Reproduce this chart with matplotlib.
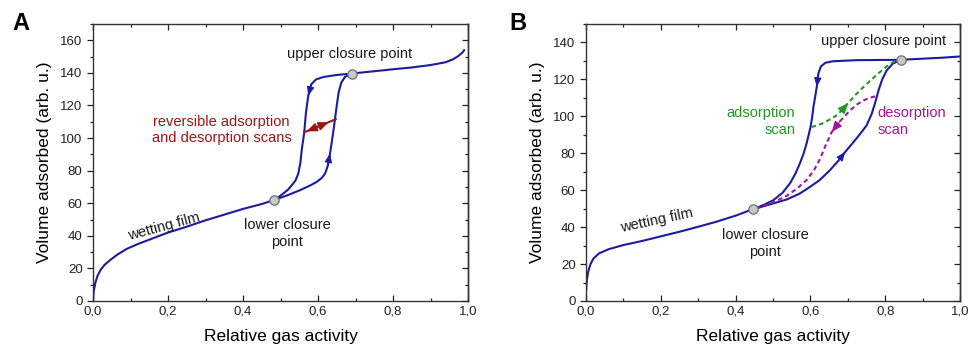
import numpy as np
import matplotlib
matplotlib.use("Agg")
import matplotlib.pyplot as plt
from matplotlib.ticker import MultipleLocator, FuncFormatter

plt.rcParams['font.family'] = ['Liberation Sans', 'DejaVu Sans']

BLUE = '#1c1ca0'
RED = '#a01414'
GREEN = '#1f9a1f'
MAGENTA = '#a0149f'
GRAY_TXT = '#1a1a1a'

# ---- panel A data ----
a_film_x = [0.0, 0.002, 0.006, 0.012, 0.02, 0.03, 0.045, 0.065, 0.09, 0.12, 0.16, 0.2, 0.25, 0.3, 0.35, 0.4, 0.45, 0.483]
a_film_y = [0, 6, 11, 15.5, 19, 22, 25, 28.5, 32, 35, 38.5, 42, 45.6, 49.5, 53, 56.5, 59.5, 62]
a_ads_x = [0.483, 0.52, 0.552, 0.58, 0.5965, 0.61, 0.619, 0.626, 0.632, 0.637, 0.642, 0.646, 0.65, 0.655, 0.662, 0.672, 0.691]
a_ads_y = [62, 65, 68, 71, 73.1, 75.5, 78.3, 83, 90.5, 98, 106, 113, 120, 128, 134, 137.5, 139.6]
a_top_x = [0.691, 0.75, 0.8, 0.85, 0.9, 0.94, 0.96, 0.975, 0.985, 0.99]
a_top_y = [139.6, 141, 142.2, 143.3, 144.8, 146.5, 148.3, 150.5, 152.5, 154]
a_des_x = [0.691, 0.65, 0.615, 0.595, 0.582, 0.574, 0.568, 0.563, 0.5565, 0.553, 0.5475, 0.54, 0.53, 0.52, 0.5075, 0.495, 0.483]
a_des_y = [139.6, 138.7, 137.5, 136, 133, 126, 116, 103, 92.6, 85, 78.3, 74, 71, 68.3, 66, 63.8, 62]
a_scan_x = [0.563, 0.605, 0.647]
a_scan_y = [103.5, 107.5, 111.5]
a_closure_x = [0.483, 0.691]
a_closure_y = [62, 139.6]

# ---- panel B data ----
b_film_x = [0.0, 0.002, 0.006, 0.012, 0.02, 0.035, 0.06, 0.1, 0.15, 0.2, 0.25, 0.3, 0.35, 0.4, 0.446]
b_film_y = [5, 11, 16, 20, 23, 25.8, 28, 30.3, 32.5, 35, 37.5, 40.2, 43, 46.2, 49.7]
b_ads_x = [0.446, 0.49, 0.537, 0.57, 0.599, 0.625, 0.652, 0.675, 0.693, 0.715, 0.733, 0.75, 0.764, 0.774, 0.782, 0.792, 0.804, 0.82, 0.841]
b_ads_y = [49.7, 52.2, 55, 58, 61.8, 65.5, 70.8, 76, 80.7, 86, 90.5, 95, 101.4, 108, 114, 120, 124.9, 128.5, 130.6]
b_top_x = [0.841, 0.9, 0.95, 1.0]
b_top_y = [130.6, 131.2, 131.7, 132.4]
b_des_x = [0.841, 0.724, 0.66, 0.64, 0.628, 0.621, 0.617, 0.613, 0.608, 0.605, 0.601, 0.596, 0.59, 0.582, 0.572, 0.56, 0.545, 0.525, 0.501, 0.475, 0.446]
b_des_y = [130.6, 130.4, 129.8, 129, 127, 123, 116, 111, 105, 100, 95, 90.5, 85.5, 80, 74.6, 69, 63.6, 58.5, 54.6, 52, 49.7]
b_ads_scan_x = [0.603, 0.62, 0.635, 0.655, 0.67, 0.685, 0.701, 0.72, 0.742, 0.765, 0.786, 0.805, 0.822, 0.841]
b_ads_scan_y = [94.2, 95.2, 96.4, 98.6, 100.5, 103.5, 107.2, 111.5, 115.9, 120.2, 124, 127.2, 129.4, 130.6]
b_des_scan_x = [0.773, 0.758, 0.742, 0.725, 0.706, 0.68, 0.657, 0.64, 0.626, 0.61, 0.59, 0.565, 0.537, 0.505, 0.474, 0.446]
b_des_scan_y = [110.8, 110, 108.6, 106.5, 103.2, 97.5, 91.5, 84, 77, 71, 65.5, 61, 57, 53.8, 51.2, 49.7]
b_closure_x = [0.446, 0.841]
b_closure_y = [49.7, 130.6]

HEAD = '-|>,head_length=0.6,head_width=0.25'


def arrow_on(ax, xs, ys, i, color, size=9):
    # arrow head at point i, pointing along the direction of the list
    ax.annotate('', xy=(xs[i], ys[i]), xytext=(xs[i - 1], ys[i - 1]),
                arrowprops=dict(arrowstyle=HEAD, color=color, lw=0.8, mutation_scale=size,
                                shrinkA=0, shrinkB=0))


def along(xs, ys, f):
    # point at fraction f of a straight segment from first to last point
    return (xs[0] + f * (xs[-1] - xs[0]), ys[0] + f * (ys[-1] - ys[0]))


def style_axes(ax, ymax, ymajor):
    ax.set_xlim(0, 1.0)
    ax.set_ylim(0, ymax)
    ax.xaxis.set_major_locator(MultipleLocator(0.2))
    ax.xaxis.set_minor_locator(MultipleLocator(0.1))
    ax.yaxis.set_major_locator(MultipleLocator(ymajor))
    ax.yaxis.set_minor_locator(MultipleLocator(ymajor / 2))
    ax.xaxis.set_major_formatter(FuncFormatter(lambda v, p: f"{v:.1f}".replace('.', ',')))
    ax.tick_params(axis='both', which='both', top=True, labelsize=9.5, colors='#222222', width=0.9)
    ax.tick_params(axis='y', which='major', direction='out', length=4, left=True, right=False)
    ax.tick_params(axis='y', which='minor', direction='out', length=2.5, left=True, right=False)
    ax.tick_params(axis='x', which='major', direction='in', length=4)
    ax.tick_params(axis='x', which='minor', direction='in', length=2.5)
    sec = ax.secondary_yaxis('right')
    sec.yaxis.set_major_locator(MultipleLocator(ymajor))
    sec.yaxis.set_minor_locator(MultipleLocator(ymajor / 2))
    sec.tick_params(which='major', direction='in', length=4, labelright=False, width=0.9, colors='#222222')
    sec.tick_params(which='minor', direction='in', length=2.5, width=0.9, colors='#222222')
    sec.spines['right'].set_linewidth(1.0)
    sec.spines['right'].set_color('#333333')
    for s in ax.spines.values():
        s.set_linewidth(1.0)
        s.set_color('#333333')
    ax.set_xlabel('Relative gas activity', fontsize=12.5, labelpad=8)
    ax.set_ylabel('Volume adsorbed (arb. u.)', fontsize=12.5, labelpad=6)


fig = plt.figure(figsize=(9.71, 3.52), dpi=100)
axA = fig.add_axes([0.0958, 0.1449, 0.3862, 0.787])
axB = fig.add_axes([0.6035, 0.1449, 0.3852, 0.787])

lw = 1.5
# panel A
for xs, ys in [(a_film_x, a_film_y), (a_ads_x, a_ads_y), (a_top_x, a_top_y), (a_des_x, a_des_y)]:
    axA.plot(xs, ys, color=BLUE, lw=lw, solid_capstyle='round')
axA.plot(a_scan_x, a_scan_y, color=RED, lw=lw)
axA.annotate('', xy=along(a_scan_x, a_scan_y, 0.08), xytext=along(a_scan_x, a_scan_y, 0.42),
             arrowprops=dict(arrowstyle=HEAD, color=RED, lw=1.2, mutation_scale=10, shrinkA=0, shrinkB=0))
axA.annotate('', xy=along(a_scan_x, a_scan_y, 0.78), xytext=along(a_scan_x, a_scan_y, 0.45),
             arrowprops=dict(arrowstyle=HEAD, color=RED, lw=1.2, mutation_scale=10, shrinkA=0, shrinkB=0))
arrow_on(axA, a_des_x, a_des_y, 5, BLUE)
arrow_on(axA, a_ads_x, a_ads_y, 8, BLUE)
axA.scatter(a_closure_x, a_closure_y, s=45, facecolor='#c8c8c8', edgecolor='#707070', linewidth=0.9, zorder=5)
style_axes(axA, 170, 20)

axA.text(0.683, 151.5, 'upper closure point', fontsize=10.5, ha='center', va='center', color=GRAY_TXT)
axA.text(0.343, 105, 'reversible adsorption\nand desorption scans', fontsize=10.5, ha='center', va='center',
         color=RED, linespacing=1.25)
axA.text(0.518, 41.5, 'lower closure\npoint', fontsize=10.5, ha='center', va='center', color=GRAY_TXT,
         linespacing=1.25)
axA.text(0.19, 45.5, 'wetting film', fontsize=10.5, ha='center', va='center', color=GRAY_TXT, rotation=15)

# panel B
for xs, ys in [(b_film_x, b_film_y), (b_ads_x, b_ads_y), (b_top_x, b_top_y), (b_des_x, b_des_y)]:
    axB.plot(xs, ys, color=BLUE, lw=lw, solid_capstyle='round')
axB.plot(b_ads_scan_x, b_ads_scan_y, color=GREEN, lw=lw, dashes=(2.2, 1.6))
axB.plot(b_des_scan_x, b_des_scan_y, color=MAGENTA, lw=lw, dashes=(2.2, 1.6))
arrow_on(axB, b_des_x, b_des_y, 6, BLUE)
arrow_on(axB, b_ads_x, b_ads_y, 8, BLUE)
arrow_on(axB, b_ads_scan_x, b_ads_scan_y, 6, GREEN, size=11)
arrow_on(axB, b_des_scan_x, b_des_scan_y, 6, MAGENTA, size=11)
axB.scatter(b_closure_x, b_closure_y, s=45, facecolor='#c8c8c8', edgecolor='#707070', linewidth=0.9, zorder=5)
style_axes(axB, 150, 20)

axB.text(0.795, 140.7, 'upper closure point', fontsize=10.5, ha='center', va='center', color=GRAY_TXT)
axB.text(0.559, 97, 'adsorption\nscan', fontsize=10.5, ha='right', va='center', color=GREEN,
         linespacing=1.25, multialignment='right')
axB.text(0.78, 97, 'desorption\nscan', fontsize=10.5, ha='left', va='center', color=MAGENTA,
         linespacing=1.25)
axB.text(0.479, 31.2, 'lower closure\npoint', fontsize=10.5, ha='center', va='center', color=GRAY_TXT,
         linespacing=1.25)
axB.text(0.19, 43.8, 'wetting film', fontsize=10.5, ha='center', va='center', color=GRAY_TXT, rotation=12)

fig.text(21 / 971, 1 - 24 / 352, 'A', fontsize=17, fontweight='bold', ha='center', va='center')
fig.text(518 / 971, 1 - 24 / 352, 'B', fontsize=17, fontweight='bold', ha='center', va='center')

fig.savefig('out.png', dpi=100)
